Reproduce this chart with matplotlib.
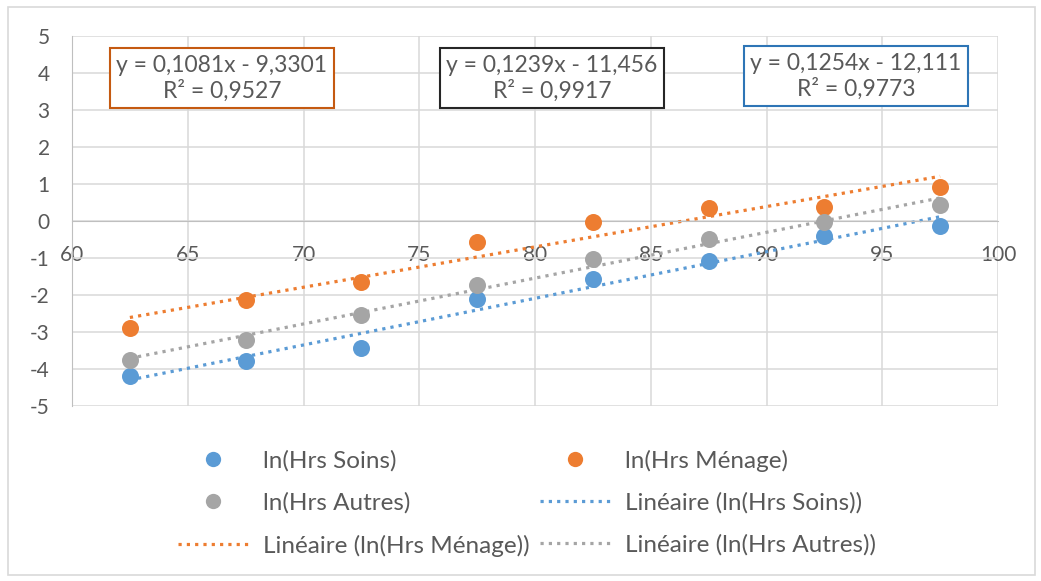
import numpy as np
import matplotlib.pyplot as plt
from matplotlib.lines import Line2D
from matplotlib.patches import Rectangle

plt.rcParams['font.family'] = ['Lato', 'DejaVu Sans']
plt.rcParams['axes.unicode_minus'] = False

TEXT_COLOR = "#595959"
GRID_COLOR = "#d9d9d9"
TICK_SIZE = 15
BOX_SIZE = 16.5
LEGEND_SIZE = 17.5
DOT_STYLE = (0, (1, 1.6))

# x positions (age classes)
ages = [62.5, 67.5, 72.5, 77.5, 82.5, 87.5, 92.5, 97.5]
# ln of hours
ln_soins = [-4.20, -3.79, -3.43, -2.11, -1.57, -1.07, -0.41, -0.14]
ln_menage = [-2.88, -2.13, -1.66, -0.56, -0.03, 0.35, 0.38, 0.93]
ln_autres = [-3.76, -3.21, -2.53, -1.73, -1.03, -0.48, -0.03, 0.42]

series_names = ["ln(Hrs Soins)", "ln(Hrs Ménage)", "ln(Hrs Autres)"]
series_colors = ["#5B9BD5", "#ED7D31", "#A5A5A5"]
equations = [
  "y = 0,1254x - 12,111\nR² = 0,9773",
  "y = 0,1081x - 9,3301\nR² = 0,9527",
  "y = 0,1239x - 11,456\nR² = 0,9917",
]
box_edge_colors = ["#2E75B6", "#C55A11", "#262626"]
# box centres in figure pixels (soins, menage, autres)
box_centres = [(856, 76), (222, 78), (552, 78)]

fig = plt.figure(figsize=(10.41, 5.81), dpi=100)
ax = fig.add_axes([72 / 1041, 1 - 406 / 581, (998 - 72) / 1041, (406 - 36) / 581])

fig.patches.append(Rectangle((8 / 1041, 1 - 575 / 581), (1035 - 8) / 1041, (575 - 7) / 581,
                             transform=fig.transFigure, fill=False, edgecolor=GRID_COLOR, linewidth=1.2))

x = np.array(ages)
all_series = [ln_soins, ln_menage, ln_autres]
for values, color in zip(all_series, series_colors):
  slope, intercept = np.polyfit(x, np.array(values), 1)
  ax.plot([x[0], x[-1]], [slope * x[0] + intercept, slope * x[-1] + intercept],
          color=color, linestyle=DOT_STYLE, linewidth=2.3, zorder=2)
for values, color in zip(all_series, series_colors):
  ax.scatter(x, values, s=150, color=color, zorder=3, linewidths=0)

ax.set_xlim(60, 100)
ax.set_ylim(-5, 5)
ax.set_xticks(np.arange(60, 101, 5))
ax.set_yticks(np.arange(-5, 6, 1))
ax.grid(True, color=GRID_COLOR, linewidth=1.1)
ax.set_axisbelow(True)
for side in ["top", "right"]:
  ax.spines[side].set_visible(False)
ax.spines["left"].set_color("#bfbfbf")
ax.spines["bottom"].set_position(("data", 0))
ax.spines["bottom"].set_color("#bfbfbf")
ax.tick_params(axis="both", length=0, labelsize=TICK_SIZE, colors=TEXT_COLOR)
ax.tick_params(axis="x", pad=17)
ax.tick_params(axis="y", pad=16)

for eq, edge, (cx, cy) in zip(equations, box_edge_colors, box_centres):
  fig.text(cx / 1041, 1 - cy / 581, eq, ha="center", va="center", fontsize=BOX_SIZE,
           color=TEXT_COLOR, linespacing=1.2,
           bbox=dict(boxstyle="square,pad=0.28", facecolor="white", edgecolor=edge, linewidth=1.5))

marker_handles = [Line2D([], [], linestyle="none", marker="o", markersize=11,
                         markerfacecolor=c, markeredgewidth=0) for c in series_colors]
line_handles = [Line2D([], [], color=c, linestyle=DOT_STYLE, linewidth=2.3) for c in series_colors]
line_labels = ["Linéaire (" + n + ")" for n in series_names]
# matplotlib fills columns first, Excel fills rows first
handles = [marker_handles[0], marker_handles[2], line_handles[1],
           marker_handles[1], line_handles[0], line_handles[2]]
labels = [series_names[0], series_names[2], line_labels[1],
          series_names[1], line_labels[0], line_labels[2]]
leg = fig.legend(handles, labels, ncol=2, loc="center left", bbox_to_anchor=(178 / 1041, 1 - 503 / 581),
                 frameon=False, fontsize=LEGEND_SIZE, handlelength=2.9, handletextpad=0.58,
                 columnspacing=0.45, labelspacing=0.85, borderpad=0, borderaxespad=0,
                 labelcolor=TEXT_COLOR)

fig.savefig("out.png", dpi=100, facecolor="white")
